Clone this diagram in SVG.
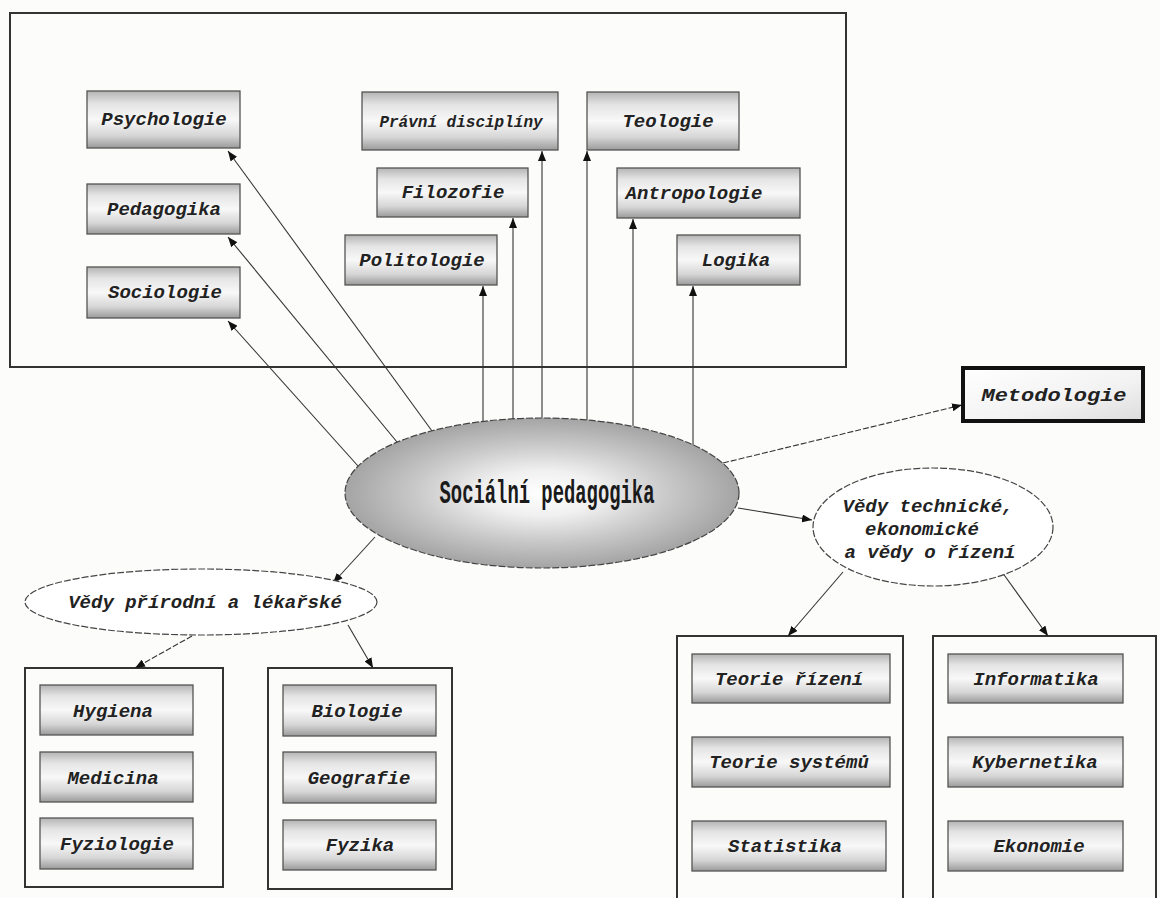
<svg xmlns="http://www.w3.org/2000/svg" width="1160" height="898" viewBox="0 0 1160 898">
<style>
.bg{fill:#fcfcfa}
.frame{fill:none;stroke:#333;stroke-width:2}
.box{fill:url(#boxg);stroke:#555;stroke-width:1.3}
.lbl{font-family:"Liberation Mono","Courier New",monospace;font-size:19px;font-weight:bold;font-style:italic;fill:#222;text-anchor:middle}
.conn{fill:none;stroke:#333;stroke-width:1.1;marker-end:url(#ah)}
.dash{stroke-dasharray:6 2}
.oval{fill:#fff;stroke:#444;stroke-width:1.2;stroke-dasharray:7 2}
</style>
<defs>
<linearGradient id="boxg" x1="0" y1="0" x2="0" y2="1">
<stop offset="0" stop-color="#b4b4b4"/>
<stop offset="0.22" stop-color="#e4e4e4"/>
<stop offset="0.5" stop-color="#f8f8f8"/>
<stop offset="0.78" stop-color="#d6d6d6"/>
<stop offset="1" stop-color="#9a9a9a"/>
</linearGradient>
<linearGradient id="metg" x1="0" y1="0" x2="1" y2="1">
<stop offset="0" stop-color="#ffffff"/>
<stop offset="0.6" stop-color="#f2f2f2"/>
<stop offset="1" stop-color="#dcdcdc"/>
</linearGradient>
<radialGradient id="cg" cx="0.5" cy="0.5" r="0.5">
<stop offset="0" stop-color="#ffffff"/>
<stop offset="0.3" stop-color="#f0f0f0"/>
<stop offset="0.65" stop-color="#c8c8c8"/>
<stop offset="1" stop-color="#a4a4a4"/>
</radialGradient>
<marker id="ah" viewBox="0 0 10 8" refX="10" refY="4" markerWidth="10" markerHeight="8" markerUnits="userSpaceOnUse" orient="auto">
<path d="M0,0 L10,4 L0,8 z" fill="#111"/>
</marker>
</defs>
<rect class="bg" x="0" y="0" width="1160" height="898"/>

<g id="frame-top"><rect class="frame" x="10" y="13" width="836" height="354"/></g>
<g id="frame-bl1"><rect class="frame" x="25" y="668" width="198" height="219"/></g>
<g id="frame-bl2"><rect class="frame" x="268" y="668" width="184" height="221"/></g>
<g id="frame-br1"><path class="frame" d="M677,898 V636 H903 V898"/></g>
<g id="frame-br2"><path class="frame" d="M933,898 V636 H1156 V898"/></g>

<g id="connectors">
<line class="conn" x1="432" y1="431" x2="228" y2="151"/>
<line class="conn" x1="397" y1="442" x2="228" y2="237"/>
<line class="conn" x1="358" y1="466" x2="228" y2="321"/>
<line class="conn" x1="483" y1="421" x2="483" y2="286"/>
<line class="conn" x1="513" y1="419" x2="513" y2="218"/>
<line class="conn" x1="542" y1="418" x2="542" y2="151"/>
<line class="conn" x1="587" y1="420" x2="587" y2="151"/>
<line class="conn" x1="633" y1="426" x2="633" y2="219"/>
<line class="conn" x1="693" y1="445" x2="693" y2="286"/>
<line class="conn dash" x1="723" y1="463" x2="962" y2="405"/>
<line class="conn" x1="738" y1="508" x2="812" y2="520"/>
<line class="conn" x1="375" y1="537" x2="333" y2="583"/>
<line class="conn dash" x1="192" y1="636" x2="135" y2="668"/>
<line class="conn" x1="348" y1="625" x2="373" y2="668"/>
<line class="conn" x1="843" y1="572" x2="788" y2="636"/>
<line class="conn" x1="1002" y1="572" x2="1048" y2="636"/>
</g>

<g id="psychologie"><rect class="box" x="87" y="91" width="153" height="57"/><text class="lbl" x="164" y="125">Psychologie</text></g>
<g id="pedagogika"><rect class="box" x="87" y="184" width="153" height="50"/><text class="lbl" x="164" y="215">Pedagogika</text></g>
<g id="sociologie"><rect class="box" x="87" y="267" width="153" height="51"/><text class="lbl" x="165" y="298">Sociologie</text></g>
<g id="pravni"><rect class="box" x="362" y="92" width="196" height="58"/><text class="lbl" x="461" y="127" style="font-size:16px">Právní disciplíny</text></g>
<g id="teologie"><rect class="box" x="587" y="92" width="152" height="58"/><text class="lbl" x="668" y="127">Teologie</text></g>
<g id="filozofie"><rect class="box" x="377" y="168" width="151" height="49"/><text class="lbl" x="453" y="198">Filozofie</text></g>
<g id="antropologie"><rect class="box" x="617" y="168" width="183" height="50"/><text class="lbl" x="694" y="199">Antropologie</text></g>
<g id="politologie"><rect class="box" x="345" y="235" width="152" height="50"/><text class="lbl" x="422" y="266">Politologie</text></g>
<g id="logika"><rect class="box" x="677" y="235" width="123" height="50"/><text class="lbl" x="736" y="266">Logika</text></g>

<g id="metodologie"><rect x="963" y="368" width="180" height="53" fill="url(#metg)" stroke="#111" stroke-width="4"/><text class="lbl" x="1054" y="401" textLength="145" lengthAdjust="spacingAndGlyphs">Metodologie</text></g>

<g id="socialni-pedagogika"><ellipse cx="542" cy="493" rx="197" ry="75" fill="url(#cg)" stroke="#444" stroke-width="1.2" stroke-dasharray="7 2"/><text x="547" y="503" font-family="'Liberation Mono','Courier New',monospace" font-size="33" font-weight="bold" fill="#1a1a1a" text-anchor="middle" textLength="215" lengthAdjust="spacingAndGlyphs">Sociální pedagogika</text></g>

<g id="vedy-prirodni"><ellipse class="oval" cx="201" cy="602" rx="176" ry="33"/><text class="lbl" x="205" y="608">Vědy přírodní a lékařské</text></g>

<g id="vedy-technicke"><ellipse class="oval" cx="933" cy="527" rx="120" ry="59"/><text class="lbl" x="928" y="512">Vědy technické,</text><text class="lbl" x="922" y="535">ekonomické</text><text class="lbl" x="930" y="558">a vědy o řízení</text></g>

<g id="hygiena"><rect class="box" x="40" y="685" width="153" height="50"/><text class="lbl" x="113" y="717">Hygiena</text></g>
<g id="medicina"><rect class="box" x="40" y="752" width="153" height="50"/><text class="lbl" x="113" y="784">Medicina</text></g>
<g id="fyziologie"><rect class="box" x="40" y="818" width="153" height="51"/><text class="lbl" x="117" y="850">Fyziologie</text></g>
<g id="biologie"><rect class="box" x="283" y="685" width="153" height="51"/><text class="lbl" x="357" y="717">Biologie</text></g>
<g id="geografie"><rect class="box" x="283" y="752" width="153" height="51"/><text class="lbl" x="359" y="784">Geografie</text></g>
<g id="fyzika"><rect class="box" x="283" y="820" width="153" height="50"/><text class="lbl" x="360" y="851">Fyzika</text></g>

<g id="teorie-rizeni"><rect class="box" x="692" y="654" width="198" height="49"/><text class="lbl" x="789" y="685">Teorie řízení</text></g>
<g id="teorie-systemu"><rect class="box" x="692" y="737" width="198" height="50"/><text class="lbl" x="789" y="768">Teorie systémů</text></g>
<g id="statistika"><rect class="box" x="692" y="821" width="194" height="50"/><text class="lbl" x="785" y="852">Statistika</text></g>
<g id="informatika"><rect class="box" x="948" y="654" width="175" height="49"/><text class="lbl" x="1036" y="685">Informatika</text></g>
<g id="kybernetika"><rect class="box" x="948" y="737" width="175" height="50"/><text class="lbl" x="1035" y="768">Kybernetika</text></g>
<g id="ekonomie"><rect class="box" x="948" y="821" width="175" height="50"/><text class="lbl" x="1039" y="852">Ekonomie</text></g>
</svg>
